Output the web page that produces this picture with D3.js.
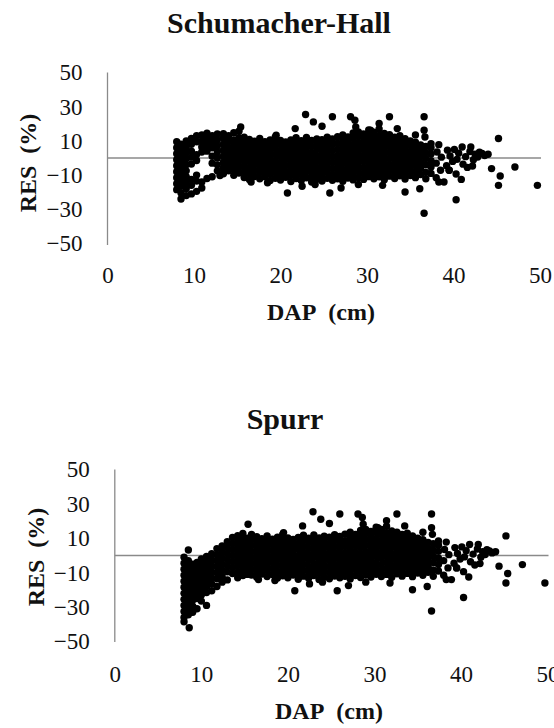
<!DOCTYPE html>
<html>
<head>
<meta charset="utf-8">
<script src="https://cdn.jsdelivr.net/npm/d3@7"></script>
<style>
  html, body { margin: 0; padding: 0; background: #fff; }
  svg { display: block; }
  svg text { font-family: 'Liberation Serif' !important; }
</style>
</head>
<body>
<svg id="chart" width="554" height="728"></svg>
<script>
// ---------- data (DAP cm, RES %) ----------
const xTicks = [0, 10, 20, 30, 40, 50];
const yTicks = [-50, -30, -10, 10, 30, 50];
const chartTitles = ["Schumacher-Hall", "Spurr"];
const xTitle = "DAP\u00a0 (cm)";
const yTitle = "RES\u00a0 (%)";

// trees with DAP >= ~15 cm: residuals practically identical in both models
const coreTrees = [
  [15.8,-11.4],[15.8,-7.9],[15.8,-4.5],[15.8,-1.0],[15.8,2.4],[15.8,5.9],[15.8,9.3],[15.8,12.2],
  [16.4,-12.6],[16.4,-9.1],[16.4,-5.7],[16.4,-2.2],[16.4,1.2],[16.4,4.7],[16.4,8.1],[16.4,10.9],
  [17.0,-10.8],[17.0,-7.3],[17.0,-3.8],[17.0,-0.4],[17.0,3.1],[17.0,6.5],[17.0,9.8],
  [17.6,-12.2],[17.6,-8.6],[17.6,-5.1],[17.6,-1.7],[17.6,1.8],[17.6,5.2],[17.6,8.7],[17.6,11.4],
  [18.2,-11.0],[18.2,-7.6],[18.2,-4.1],[18.2,-0.7],[18.2,2.8],[18.2,6.2],[18.2,9.5],
  [18.8,-13.1],[18.8,-9.4],[18.8,-6.0],[18.8,-2.5],[18.8,0.9],[18.8,4.4],[18.8,7.8],[18.8,10.6],
  [19.4,-11.8],[19.4,-8.3],[19.4,-4.8],[19.4,-1.4],[19.4,2.1],[19.4,5.5],[19.4,8.9],[19.4,12.3],
  [20.0,-12.9],[20.0,-9.5],[20.0,-6.0],[20.0,-2.6],[20.0,0.9],[20.0,4.3],[20.0,7.8],[20.0,10.2],
  [20.6,-11.3],[20.6,-7.8],[20.6,-4.4],[20.6,-0.9],[20.6,2.5],[20.6,6.0],[20.6,9.4],
  [21.2,-13.8],[21.2,-10.2],[21.2,-6.8],[21.2,-3.3],[21.2,0.1],[21.2,3.6],[21.2,7.0],[21.2,10.5],
  [21.8,-12.0],[21.8,-8.5],[21.8,-5.1],[21.8,-1.6],[21.8,1.8],[21.8,5.3],[21.8,8.7],[21.8,11.8],
  [22.4,-13.2],[22.4,-9.7],[22.4,-6.3],[22.4,-2.8],[22.4,0.6],[22.4,4.1],[22.4,7.5],[22.4,10.1],
  [23.0,-11.6],[23.0,-8.1],[23.0,-4.7],[23.0,-1.2],[23.0,2.2],[23.0,5.7],[23.0,9.1],[23.0,12.0],
  [23.6,-14.0],[23.6,-10.5],[23.6,-7.0],[23.6,-3.6],[23.6,-0.1],[23.6,3.3],[23.6,6.8],[23.6,10.2],
  [24.2,-12.4],[24.2,-8.9],[24.2,-5.5],[24.2,-2.0],[24.2,1.4],[24.2,4.9],[24.2,8.3],[24.2,11.2],
  [24.8,-13.5],[24.8,-10.0],[24.8,-6.6],[24.8,-3.1],[24.8,0.3],[24.8,3.8],[24.8,7.2],[24.8,10.7],
  [25.4,-11.9],[25.4,-8.4],[25.4,-5.0],[25.4,-1.5],[25.4,1.9],[25.4,5.4],[25.4,8.8],[25.4,12.1],
  [26.0,-13.0],[26.0,-9.6],[26.0,-6.1],[26.0,-2.7],[26.0,0.8],[26.0,4.2],[26.0,7.7],[26.0,11.1],
  [26.6,-12.1],[26.6,-8.6],[26.6,-5.2],[26.6,-1.7],[26.6,1.7],[26.6,5.2],[26.6,8.6],[26.6,12.4],
  [27.2,-13.6],[27.2,-10.1],[27.2,-6.7],[27.2,-3.2],[27.2,0.2],[27.2,3.7],[27.2,7.1],[27.2,10.6],[27.2,13.5],
  [27.8,-11.7],[27.8,-8.2],[27.8,-4.8],[27.8,-1.3],[27.8,2.1],[27.8,5.6],[27.8,9.0],[27.8,12.3],
  [28.4,-12.8],[28.4,-9.3],[28.4,-5.9],[28.4,-2.4],[28.4,1.0],[28.4,4.5],[28.4,7.9],[28.4,11.4],[28.4,14.6],
  [29.0,-11.4],[29.0,-7.9],[29.0,-4.5],[29.0,-1.0],[29.0,2.4],[29.0,5.9],[29.0,9.3],[29.0,12.8],[29.0,15.2],
  [29.6,-12.5],[29.6,-9.0],[29.6,-5.6],[29.6,-2.1],[29.6,1.3],[29.6,4.8],[29.6,8.2],[29.6,11.7],[29.6,14.0],
  [30.2,-10.9],[30.2,-7.4],[30.2,-4.0],[30.2,-0.5],[30.2,2.9],[30.2,6.4],[30.2,9.8],[30.2,13.3],[30.2,16.4],
  [30.8,-12.2],[30.8,-8.7],[30.8,-5.3],[30.8,-1.8],[30.8,1.6],[30.8,5.1],[30.8,8.5],[30.8,12.0],[30.8,15.1],
  [31.4,-11.0],[31.4,-7.5],[31.4,-4.1],[31.4,-0.6],[31.4,2.8],[31.4,6.3],[31.4,9.7],[31.4,13.2],[31.4,17.0],
  [32.0,-12.7],[32.0,-9.2],[32.0,-5.8],[32.0,-2.3],[32.0,1.1],[32.0,4.6],[32.0,8.0],[32.0,11.5],[32.0,14.3],
  [32.6,-10.6],[32.6,-7.1],[32.6,-3.7],[32.6,-0.2],[32.6,3.2],[32.6,6.7],[32.6,10.1],[32.6,13.6],
  [33.2,-12.0],[33.2,-8.5],[33.2,-5.1],[33.2,-1.6],[33.2,1.8],[33.2,5.3],[33.2,8.7],[33.2,12.2],
  [33.8,-10.4],[33.8,-6.9],[33.8,-3.5],[33.8,0.0],[33.8,3.4],[33.8,6.9],[33.8,10.3],[33.8,13.0],
  [34.4,-12.3],[34.4,-8.8],[34.4,-5.4],[34.4,-1.9],[34.4,1.5],[34.4,5.0],[34.4,8.4],[34.4,11.3],
  [35.0,-10.2],[35.0,-6.7],[35.0,-3.3],[35.0,0.2],[35.0,3.6],[35.0,7.1],[35.0,10.0],
  [35.6,-11.5],[35.6,-8.0],[35.6,-4.6],[35.6,-1.1],[35.6,2.3],[35.6,5.8],[35.6,9.2],[35.6,13.5],
  [36.2,-9.7],[36.2,-6.2],[36.2,-2.8],[36.2,0.7],[36.2,4.1],[36.2,7.6],
  [36.8,-12.1],[36.8,-8.4],[36.8,-4.0],[36.8,-0.3],[36.8,3.2],[36.8,6.8],
  [37.4,-9.0],[37.4,-5.2],[37.4,-1.6],[37.4,2.4],[37.4,6.0],[37.4,8.4],
  [38.0,-11.5],[38.0,-3.0],[38.1,3.5],[38.3,7.8],[38.5,-7.2],[38.6,0.5],[38.9,-14.0],
  [39.2,-4.5],[39.3,4.6],[39.5,-7.2],[39.6,1.2],[39.9,-2.0],[40.1,5.0],[40.3,-9.4],
  [40.4,-0.8],[40.6,2.8],[40.9,-12.5],[41.0,6.4],[41.1,-3.6],[41.4,0.8],[41.6,-5.5],
  [41.9,3.8],[42.0,6.4],[42.2,-4.7],[42.3,-1.0],[42.5,2.2],[42.8,0.6],[43.0,3.4],
  [43.3,2.6],[43.6,1.5],[44.0,2.2]
];

const outlierTrees = [
  [22.9,25.4],[23.8,21.1],[21.7,17.2],[24.8,18.6],[26.0,24.1],[28.1,24.1],[28.6,22.1],
  [28.7,18.2],[32.6,24.1],[33.5,17.2],[36.6,24.1],[36.6,16.2],[36.7,12.3],[45.2,11.4],
  [31.4,20.2],[30.4,16.2],[15.4,18.2],[19.5,13.3],
  [20.8,-20.5],[25.7,-20.5],[36.6,-32.3],[40.3,-24.4],[45.2,-16.0],[49.7,-16.0],
  [47.1,-5.3],[44.4,-6.2],[45.4,-10.5],[34.4,-19.9],[36.1,-18.0],[38.3,-14.0],[39.5,-7.2],
  [16.6,-14.0],[22.5,-16.5],[27.0,-17.5],[29.0,-15.5],[31.8,-16.0],[24.0,-15.5],[18.5,-14.5]
];

// small trees (DAP < ~15.5 cm): residuals differ between the two models
const smallTreesSH = [
  [8.0,9.5],[8.0,6.0],[8.0,2.5],[8.0,-1.0],[8.0,-4.5],[8.0,-8.0],[8.0,-11.5],[8.0,-15.0],[8.0,-18.5],
  [8.5,8.0],[8.5,4.5],[8.5,1.0],[8.5,-2.5],[8.5,-6.0],[8.5,-9.5],[8.5,-13.0],[8.5,-16.5],[8.5,-20.5],[8.5,-24.0],
  [9.1,10.0],[9.1,6.5],[9.1,3.0],[9.1,-0.5],[9.1,-4.0],[9.1,-7.5],[9.1,-11.0],[9.1,-14.5],[9.1,-18.0],[9.1,-22.0],
  [9.7,11.5],[9.7,8.0],[9.7,4.0],[9.7,0.5],[9.7,-3.5],[9.7,-12.5],[9.7,-16.0],[9.7,-21.0],
  [10.3,13.0],[10.3,9.5],[10.3,2.0],[10.3,-1.5],[10.3,-10.0],[10.3,-13.5],[10.3,-19.5],
  [10.9,13.5],[10.9,10.0],[10.9,6.5],[10.9,3.5],[10.9,-14.0],[10.9,-17.5],
  [11.5,14.5],[11.5,11.0],[11.5,7.5],[11.5,4.0],[11.5,-12.0],
  [12.1,13.0],[12.1,9.5],[12.1,6.0],[12.1,1.0],[12.1,-3.0],[12.1,-11.0],
  [12.7,14.0],[12.7,10.5],[12.7,7.0],[12.7,3.5],[12.7,0.0],[12.7,-4.0],[12.7,-7.5],
  [13.0,-10.2],
  [13.4,-9.2],[13.4,-5.8],[13.4,-2.4],[13.4,1.1],[13.4,4.6],[13.4,8.0],[13.4,11.7],[13.4,14.2],
  [14.0,-7.5],[14.0,-4.1],[14.0,-0.6],[14.0,2.9],[14.0,6.3],[14.0,9.8],[14.0,13.1],
  [14.6,-10.1],[14.6,-6.6],[14.6,-3.2],[14.6,0.3],[14.6,3.7],[14.6,7.2],[14.6,10.6],[14.6,14.8],
  [15.2,-8.8],[15.2,-5.3],[15.2,-1.9],[15.2,1.6],[15.2,5.0],[15.2,8.5],[15.2,11.9],[15.2,15.6]
];

const smallTreesSP = [
  [8.0,-1.0],[8.0,-4.5],[8.0,-8.0],[8.0,-11.5],[8.0,-15.0],[8.0,-18.5],[8.0,-22.0],[8.0,-25.5],[8.0,-29.0],[8.0,-32.5],[8.0,-36.0],[8.0,-38.5],
  [8.5,3.2],[8.5,-3.0],[8.5,-6.5],[8.5,-10.0],[8.5,-13.5],[8.5,-17.0],[8.5,-20.5],[8.5,-24.0],[8.5,-27.5],[8.5,-31.0],[8.5,-34.5],[8.6,-42.0],
  [9.0,-5.0],[9.0,-8.5],[9.0,-12.0],[9.0,-15.5],[9.0,-19.0],[9.0,-22.5],[9.0,-26.0],[9.0,-29.5],[9.0,-33.0],
  [9.5,-4.0],[9.5,-7.5],[9.5,-11.0],[9.5,-14.5],[9.5,-18.0],[9.5,-21.5],[9.5,-25.0],[9.5,-31.0],
  [10.0,-2.0],[10.0,-5.5],[10.0,-9.0],[10.0,-12.5],[10.0,-16.0],[10.0,-19.5],[10.0,-23.0],[10.0,-26.5],
  [10.6,-0.5],[10.6,-4.0],[10.6,-7.5],[10.6,-11.0],[10.6,-14.5],[10.6,-18.0],[10.6,-21.5],[10.6,-29.0],
  [11.2,1.0],[11.2,-2.5],[11.2,-6.0],[11.2,-9.5],[11.2,-13.0],[11.2,-16.5],[11.2,-20.5],
  [11.8,4.0],[11.8,0.5],[11.8,-3.0],[11.8,-6.5],[11.8,-10.0],[11.8,-13.5],[11.8,-18.0],
  [12.4,5.5],[12.4,2.0],[12.4,-1.5],[12.4,-5.0],[12.4,-8.5],[12.4,-12.0],[12.4,-15.5],
  [13.0,8.0],[13.0,4.5],[13.0,1.0],[13.0,-2.5],[13.0,-6.0],[13.0,-9.5],[13.0,-14.2],
  [13.6,10.5],[13.6,7.0],[13.6,3.5],[13.6,0.0],[13.6,-3.5],[13.6,-7.0],[13.6,-10.5],
  [14.2,11.5],[14.2,8.0],[14.2,4.5],[14.2,1.0],[14.2,-2.5],[14.2,-6.0],[14.2,-9.5],[14.2,-13.0],
  [14.8,12.8],[14.8,9.3],[14.8,5.8],[14.8,2.3],[14.8,-1.2],[14.8,-4.7],[14.8,-8.2],[14.8,-11.7],
  [15.3,10.0],[15.3,6.5],[15.3,3.0],[15.3,-0.5],[15.3,-4.0],[15.3,-7.5],[15.3,-11.0]
];

// ---------- drawing ----------
const svg = d3.select("#chart");

function serif(sel) {
  return sel.attr("font-family", "Liberation Serif")
            .style("font-family", "Liberation Serif");
}

const panels = [
  { title: chartTitles[0], points: smallTreesSH.concat(coreTrees, outlierTrees),
    xRange: [107.5, 540], yRange: [243.5, 72.5], axisBottom: 245,
    titleX: 279, titleY: 33, tickBase: 283, xTitleX: 321, xTitleY: 319.5,
    yTitleX: 36, yTitleY: 163 },
  { title: chartTitles[1], points: smallTreesSP.concat(coreTrees, outlierTrees),
    xRange: [114.8, 547.5], yRange: [641.5, 469.5], axisBottom: 642,
    titleX: 285, titleY: 429, tickBase: 681.5, xTitleX: 329, xTitleY: 719,
    yTitleX: 44, yTitleY: 557 }
];

panels.forEach(p => {
  const x = d3.scaleLinear().domain([0, 50]).range(p.xRange);
  const y = d3.scaleLinear().domain([-50, 50]).range(p.yRange);
  const g = svg.append("g");

  serif(g.append("text"))
    .attr("x", p.titleX).attr("y", p.titleY)
    .attr("text-anchor", "middle")
    .attr("font-size", 30).attr("font-weight", "bold")
    .attr("fill", "#111")
    .text(p.title);

  // y axis labels
  const yAxis = d3.axisLeft(y).tickValues(yTicks).tickSize(0).tickPadding(25)
    .tickFormat(d3.format("d"));
  const ya = g.append("g").attr("transform", `translate(${x(0)},0)`).call(yAxis);
  serif(ya).attr("font-size", 23);
  ya.select(".domain").remove();
  serif(ya.selectAll("text")).attr("fill", "#111").attr("font-size", 23);
  // y axis line
  g.append("line")
    .attr("x1", x(0)).attr("x2", x(0))
    .attr("y1", y(50)).attr("y2", p.axisBottom)
    .attr("stroke", "#8a8a8a").attr("stroke-width", 1.3);

  // x axis labels at the bottom
  const xAxis = d3.axisBottom(x).tickValues(xTicks).tickSize(0).tickPadding(0)
    .tickFormat(d3.format("d"));
  const xa = g.append("g").attr("transform", `translate(0,${p.tickBase})`).call(xAxis);
  serif(xa).attr("font-size", 23);
  xa.select(".domain").remove();
  serif(xa.selectAll("text")).attr("y", 0).attr("dy", null).attr("fill", "#111").attr("font-size", 23);

  // zero reference line (horizontal axis)
  g.append("line")
    .attr("x1", x(0)).attr("x2", x(50) + 1)
    .attr("y1", y(0)).attr("y2", y(0))
    .attr("stroke", "#8a8a8a").attr("stroke-width", 1.3);

  // axis titles
  serif(g.append("text"))
    .attr("x", p.xTitleX).attr("y", p.xTitleY)
    .attr("text-anchor", "middle")
    .attr("font-size", 24).attr("font-weight", "bold")
    .attr("fill", "#111")
    .text(xTitle);
  serif(g.append("text"))
    .attr("transform", `translate(${p.yTitleX},${p.yTitleY}) rotate(-90)`)
    .attr("text-anchor", "middle")
    .attr("font-size", 24).attr("font-weight", "bold")
    .attr("fill", "#111")
    .text(yTitle);

  // points
  g.append("g").selectAll("circle")
    .data(p.points)
    .join("circle")
    .attr("cx", d => x(d[0]))
    .attr("cy", d => y(d[1]))
    .attr("r", 3.7)
    .attr("fill", "#000");
});
</script>
</body>
</html>
